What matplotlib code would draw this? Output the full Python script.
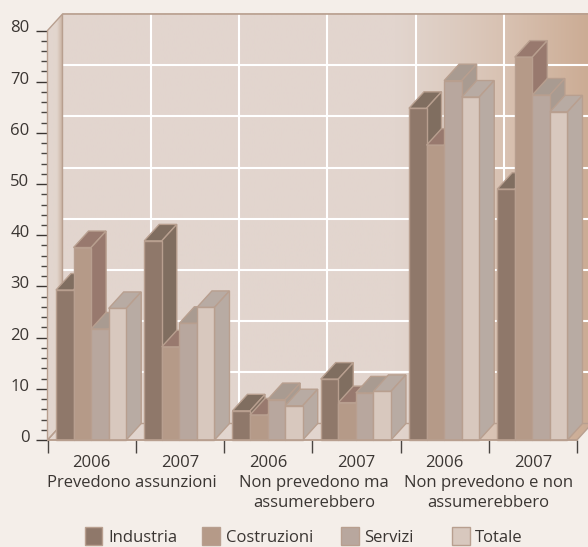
import numpy as np
import matplotlib
matplotlib.use("Agg")
import matplotlib.pyplot as plt
from matplotlib.colors import LinearSegmentedColormap
from matplotlib.patches import Polygon, Rectangle
from matplotlib.ticker import MultipleLocator
from matplotlib.transforms import blended_transform_factory, ScaledTranslation

series = ["Industria", "Costruzioni", "Servizi", "Totale"]
years = ["2006", "2007", "2006", "2007", "2006", "2007"]
groups = ["Prevedono assunzioni", "Non prevedono ma\nassumerebbero", "Non prevedono e non\nassumerebbero"]

industria = [29.3, 38.9, 5.7, 11.9, 64.8, 49.0]
costruzioni = [37.6, 18.2, 4.9, 7.3, 57.6, 74.8]
servizi = [21.7, 22.8, 7.9, 9.2, 70.2, 67.4]
totale = [25.7, 25.9, 6.7, 9.5, 67.0, 64.1]

front_colors = ["#8f786a", "#b59a88", "#b8a79e", "#d8c8be"]
shade_colors = ["#806e60", "#98796e", "#a99b91", "#b8aba3"]
edge = "#b89f8f"
page = "#f4eee9"
ink = "#3a3532"

plt.rcParams["font.family"] = ["Open Sans", "DejaVu Sans"]

W, H = 588, 547
fig = plt.figure(figsize=(W / 100, H / 100), dpi=100, facecolor=page)
ax = fig.add_axes([47.5 / W, (H - 440) / H, 529.5 / W, 409.5 / H])
ax.patch.set_visible(False)

# Oblique depth of the box, expressed in axis units
depth_x = 15 / (529.5 / 6)
depth_y = 16.5 / (409.5 / 80)
bar_w = 0.199
bar_start = 0.096

wall_cmap = LinearSegmentedColormap.from_list(
    "wall", [(0, "#e2d5ce"), (0.63, "#e2d5ce"), (0.73, "#ddccc1"), (0.84, "#d8c1b1"), (1, "#cbab93")])
side_cmap = LinearSegmentedColormap.from_list(
    "side", [(0, "#e2d6cf"), (0.6, "#e2d5cd"), (1, "#c8af9e")])
ramp = np.linspace(0, 1, 256).reshape(1, -1)

# Back wall with its gridlines
ax.imshow(ramp, cmap=wall_cmap, aspect="auto", zorder=1, clip_on=False,
          extent=(depth_x, 6 + depth_x, depth_y, 80 + depth_y))
for level in range(10, 80, 10):
    ax.plot([depth_x, 6 + depth_x], [level + depth_y] * 2, color="white", lw=1.5,
            zorder=2, clip_on=False, solid_capstyle="butt")
for pos in range(1, 6):
    ax.plot([pos + depth_x] * 2, [depth_y, 80 + depth_y], color="white", lw=1.5,
            zorder=2, clip_on=False, solid_capstyle="butt")
ax.plot([depth_x, 6 + depth_x], [80 + depth_y] * 2, color=edge, lw=1.2, zorder=3, clip_on=False)

# Left side wall
side = ax.imshow(np.linspace(0, 1, 64).reshape(1, -1), cmap=side_cmap, aspect="auto", zorder=2,
                 extent=(0, depth_x, 0, 80 + depth_y))
side_shape = Polygon([(0, 0), (depth_x, depth_y), (depth_x, 80 + depth_y), (0, 80)],
                     closed=True, fc="none", ec=edge, lw=1, zorder=3, clip_on=False)
ax.add_patch(side_shape)
side.set_clip_box(fig.bbox)
side.set_clip_path(side_shape)

# Floor
floor = ax.imshow(ramp, cmap=wall_cmap, aspect="auto", zorder=2,
                  extent=(0, 6 + depth_x, 0, depth_y))
floor_shape = Polygon([(0, 0), (6, 0), (6 + depth_x, depth_y), (depth_x, depth_y)],
                      closed=True, fc="none", ec=edge, lw=1, zorder=3, clip_on=False)
ax.add_patch(floor_shape)
floor.set_clip_box(fig.bbox)
floor.set_clip_path(floor_shape)

# Bars, painted left to right so nearer neighbours hide the shaded faces
order = 4
for g in range(len(years)):
    for s, values in enumerate([industria, costruzioni, servizi, totale]):
        x0 = g + bar_start + s * bar_w
        x1 = x0 + bar_w
        v = values[g]
        top = Polygon([(x0, v), (x1, v), (x1 + depth_x, v + depth_y), (x0 + depth_x, v + depth_y)],
                      closed=True, fc=shade_colors[s], ec=edge, lw=1, zorder=order, clip_on=False)
        right = Polygon([(x1, 0), (x1 + depth_x, depth_y), (x1 + depth_x, v + depth_y), (x1, v)],
                        closed=True, fc=shade_colors[s], ec=edge, lw=1, zorder=order, clip_on=False)
        ax.add_patch(top)
        ax.add_patch(right)
        ax.bar(x0, v, width=bar_w, align="edge", color=front_colors[s], edgecolor=edge, lw=1,
               zorder=order + 0.5, clip_on=False)
        order += 1

ax.set_xlim(0, 6)
ax.set_ylim(0, 80)
for name in ["top", "right", "left"]:
    ax.spines[name].set_visible(False)
ax.spines["bottom"].set_color(edge)
ax.spines["bottom"].set_linewidth(1.2)
ax.spines["bottom"].set_zorder(40)

ax.yaxis.set_major_locator(MultipleLocator(10))
ax.yaxis.set_minor_locator(MultipleLocator(2))
ax.tick_params(axis="y", which="major", length=9, width=1, color="#3a3532", pad=4,
               labelsize=12, labelcolor=ink)
ax.tick_params(axis="y", which="minor", length=4.7, width=1, color="#4a4541")
# The value labels sit slightly above their ticks
raise_labels = ScaledTranslation(0, 4 / 100, fig.dpi_scale_trans)
for label in ax.get_yticklabels():
    label.set_transform(label.get_transform() + raise_labels)

ax.set_xticks(range(7))
ax.set_xticklabels([])
ax.set_xticks(np.arange(0.5, 6), labels=years, minor=True)
ax.tick_params(axis="x", which="major", length=9, width=1, color="#4a4541")
ax.tick_params(axis="x", which="minor", length=0, pad=10.5, labelsize=12, labelcolor=ink)

# Group captions under the year labels
trans = blended_transform_factory(ax.transData, fig.transFigure)
for center, label in zip([0.96, 3.02, 5.0], groups):
    ax.text(center, 1 - 475 / H, label, transform=trans, ha="center", va="top",
            fontsize=12, color=ink, linespacing=1.3)

# Legend row
swatch_x = [84.5, 202, 341, 452]
text_x = [108, 226, 364, 475]
for name, color, sx, tx in zip(series, front_colors, swatch_x, text_x):
    fig.add_artist(Rectangle((sx / W, 1 - 545 / H), 17.5 / W, 18 / H, transform=fig.transFigure,
                             fc=color, ec=edge, lw=1))
    fig.text(tx / W, 1 - 541.5 / H, name, ha="left", va="baseline", fontsize=12, color=ink)

fig.savefig("out.png", dpi=100, facecolor=page)
